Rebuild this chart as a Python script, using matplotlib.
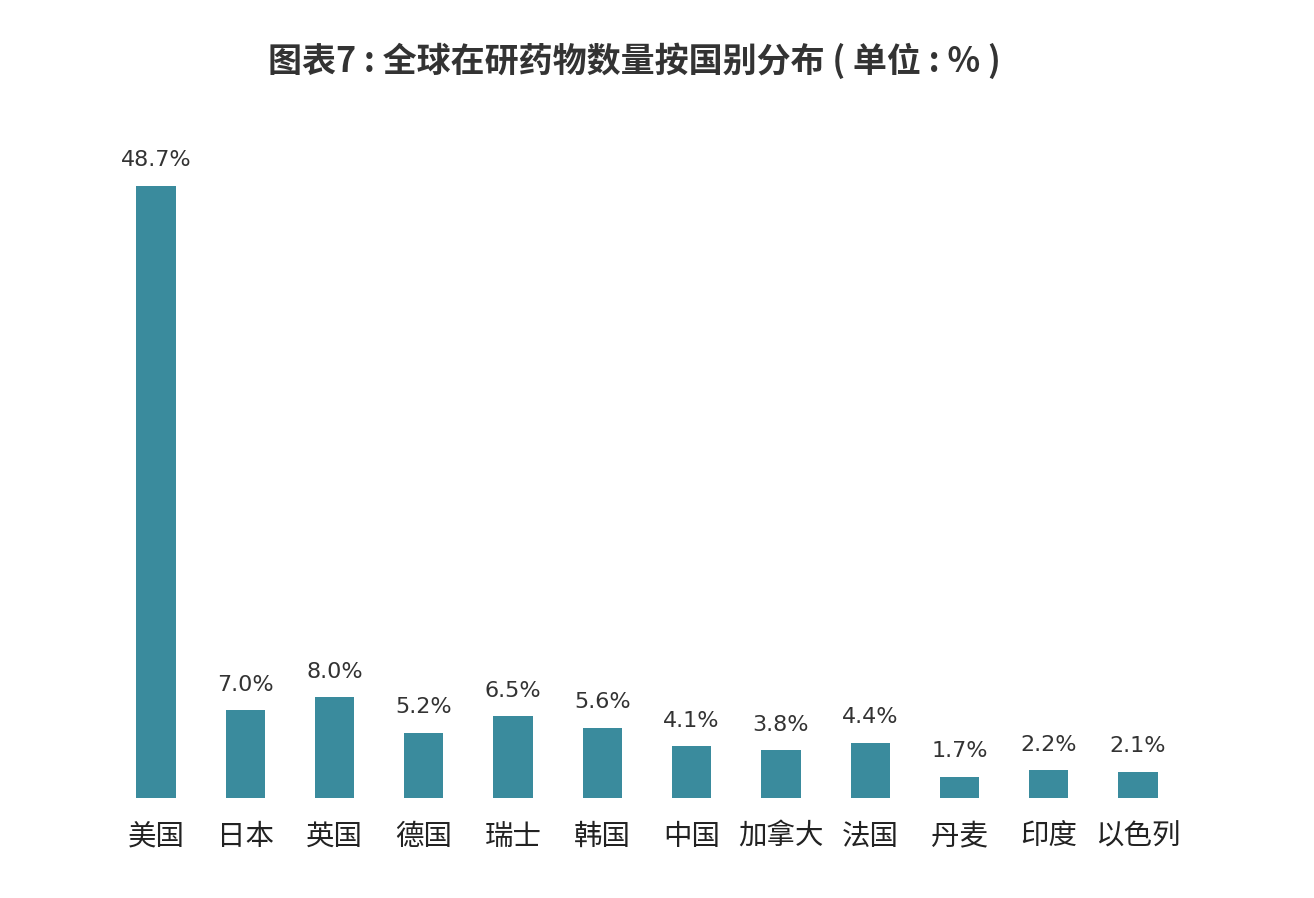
import matplotlib
matplotlib.use('Agg')
import matplotlib.pyplot as plt

plt.rcParams['font.family'] = ['Noto Sans CJK SC', 'DejaVu Sans']

countries = ['美国', '日本', '英国', '德国', '瑞士', '韩国', '中国', '加拿大', '法国', '丹麦', '印度', '以色列']
shares = [48.7, 7.0, 8.0, 5.2, 6.5, 5.6, 4.1, 3.8, 4.4, 1.7, 2.2, 2.1]
title = '图表7 : 全球在研药物数量按国别分布 ( 单位 : % )'

fig = plt.figure(figsize=(13.14, 8.98), dpi=100)
ax = fig.add_axes([0.0848, 0.1114, 0.8152, 0.77])

x = range(len(countries))
ax.bar(x, shares, width=0.44, color='#3a8b9d')
for i, v in enumerate(shares):
    ax.annotate('%.1f%%' % v, (i, v), xytext=(0, 11), textcoords='offset points',
                ha='center', va='bottom', fontsize=16, color='#333333',
                family='DejaVu Sans')

ax.set_xlim(-0.5, len(countries) - 0.5)
ax.set_ylim(0, 55)
ax.set_xticks(list(x))
ax.set_xticklabels(countries, fontsize=20.5, color='#222222')
ax.tick_params(axis='x', length=0, pad=17)
ax.set_yticks([])
for s in ax.spines.values():
    s.set_visible(False)

fig.text(0.4825, 0.932, title, ha='center', va='center', fontsize=24.5,
         fontweight='bold', color='#333333')

fig.savefig('out.png', dpi=100, facecolor='white')
